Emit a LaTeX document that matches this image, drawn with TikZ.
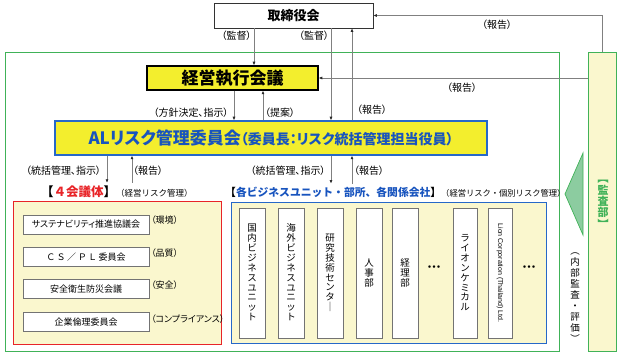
\documentclass[tikz,border=0pt]{standalone}
\usepackage{fontspec}
\setmainfont{Noto Sans CJK JP}[RawFeature=+palt]
\newfontfamily\jpfixed{Noto Sans CJK JP}
\newfontfamily\latfont{Liberation Sans}
\usetikzlibrary{arrows.meta,shadows}
\makeatletter
\newdimen\vstsp
\def\vst#1#2{\vbox{\vstsp=#1\relax\offinterlineskip\vst@#2\@nil}}
\def\vst@#1{\ifx#1\@nil\else\hbox to 1.1em{\hss\vrule height \vstsp depth 0.18em width 0pt #1\hss}\expandafter\vst@\fi}
\makeatother
\definecolor{kyellow}{RGB}{243,238,45}
\definecolor{pale}{RGB}{250,247,206}
\definecolor{kgreen}{RGB}{64,178,88}
\definecolor{kblue}{RGB}{38,104,200}
\definecolor{kbluet}{RGB}{24,84,190}
\definecolor{kred}{RGB}{232,36,40}
\definecolor{agray}{RGB}{128,128,128}
\definecolor{tri}{RGB}{140,204,160}
\tikzset{
  arr/.style={draw=agray, line width=0.6pt, -{Latex[length=3.5pt,width=3pt,color=black!85]}},
  lab/.style={font=\fontsize{10}{11}\selectfont, inner sep=0pt},
  wbox/.style={draw=black!55, fill=white, line width=0.6pt, inner sep=0pt,
    drop shadow={shadow xshift=0.8pt, shadow yshift=-0.8pt, fill=black!40, opacity=0.6}},
  hbox/.style={wbox, minimum width=126pt, minimum height=19pt, font=\fontsize{9}{10}\selectfont},
  vbox/.style={wbox, minimum width=26pt, minimum height=130pt},
  vtext/.style={inner sep=0pt, font=\jpfixed\fontsize{9.5}{10}\selectfont},
  side/.style={font=\fontsize{9}{10}\selectfont, inner sep=0pt, anchor=west},
}
\begin{document}
\begin{tikzpicture}[x=1pt,y=-1pt]
\useasboundingbox (0,0) rectangle (620,355);
% containers
\node[draw=kgreen, line width=0.7pt, minimum width=554pt, minimum height=299pt, inner sep=0pt] (outer) at (282,201.5) {};
\node[draw=kgreen, fill=pale, line width=0.7pt, minimum width=28pt, minimum height=299pt, inner sep=0pt] (aud) at (602,201.5) {};
\node[text=kgreen, inner sep=0pt, font=\jpfixed\fontsize{11}{12}\selectfont\bfseries] (audt) at (603,202) {\vst{0.8em}{︻監査部︼}};
% top boxes
\node[draw=black!80, fill=white, line width=0.7pt, minimum width=159pt, minimum height=25pt, inner sep=0pt,
  font=\fontsize{13}{14}\selectfont\bfseries] (tb) at (293.5,15.5) {取締役会};
\node[draw=black, fill=kyellow, line width=1.5pt, minimum width=171pt, minimum height=24pt, inner sep=0pt,
  drop shadow={shadow xshift=1pt, shadow yshift=-1pt, fill=black!50, opacity=0.6},
  font=\fontsize{17}{18}\selectfont\bfseries] (ke) at (232.5,78) {経営執行会議};
\node[draw=kblue, fill=kyellow, line width=1.5pt, minimum width=432pt, minimum height=34pt, inner sep=0pt,
  text=kbluet, font=\bfseries] (al) at (271,138)
  {{\fontsize{17}{18}\selectfont\bfseries ALリスク管理委員会}{\fontsize{14}{15}\selectfont\bfseries （委員長：リスク統括管理担当役員）}};
% lower containers
\node[draw=kred, fill=pale, line width=0.7pt, minimum width=208pt, minimum height=143pt, inner sep=0pt] (rb) at (117,272.5) {};
\node[draw=kblue, fill=pale, line width=0.7pt, minimum width=315pt, minimum height=141pt, inner sep=0pt] (bb) at (388.5,272.5) {};
% section labels
\node[inner sep=0pt, anchor=west] (g4) at (41,192)
  {{\jpfixed\fontsize{12.5}{13}\selectfont\bfseries 【{\color{kred}４会議体}】}{\jpfixed\fontsize{8.5}{10}\selectfont（経営リスク管理）}};
\node[inner sep=0pt, anchor=west] (bu) at (225,192)
  {{\jpfixed\fontsize{10.8}{12}\selectfont\bfseries 【{\color{kbluet}各ビジネスユニット・部所、各関係会社}】}{\jpfixed\fontsize{8.3}{10}\selectfont（経営リスク・個別リスク管理）}};
% left inner boxes
\node[hbox] (c1) at (86,224.5) {サステナビリティ推進協議会};
\node[hbox, font=\jpfixed\fontsize{9}{10}\selectfont] (c2) at (86,257) {Ｃ\,Ｓ\,／\,Ｐ\,Ｌ\,委員会};
\node[hbox] (c3) at (86,289) {安全衛生防災会議};
\node[hbox] (c4) at (86,322) {企業倫理委員会};
\node[side] at (151,220) {（環境）};
\node[side] at (151,253) {（品質）};
\node[side] at (151,285) {（安全）};
\node[side] at (151,319) {（コンプライアンス）};
% vertical boxes
\node[vbox] (v1) at (252,273) {};
\node[vbox] (v2) at (291,273) {};
\node[vbox] (v3) at (330,273) {};
\node[vbox] (v4) at (369,273) {};
\node[vbox] (v5) at (405,273) {};
\node[vbox, minimum width=24pt] (v6) at (465,273) {};
\node[vbox, minimum width=24pt] (v7) at (500,273) {};
\node[vtext] at (v1) {\vst{0.86em}{国内ビジネスユニット}};
\node[vtext] at (v2) {\vst{0.86em}{海外ビジネスユニット}};
\node[vtext] at (v3) {\vst{0.86em}{研究技術センタ｜}};
\node[vtext] at (v4) {\vst{0.86em}{人事部}};
\node[vtext] at (v5) {\vst{0.86em}{経理部}};
\node[vtext] at (v6) {\vst{0.86em}{ライオンケミカル}};
\node[rotate=-90, inner sep=0pt, font=\latfont\fontsize{7}{8}\selectfont] at (v7) {Lion Corporation (Thailand) Ltd.};
\node[inner sep=0pt, font=\fontsize{9}{10}\selectfont\bfseries] (d1) at (434,268) {・・・};
\node[inner sep=0pt, font=\fontsize{9}{10}\selectfont\bfseries] (d2) at (529,268) {・・・};
% audit arrow triangle and text
\draw[kgreen, fill=tri, line width=0.7pt] (565,194) -- (583,153) -- (583,235) -- cycle;
\node[inner sep=0pt, font=\jpfixed\fontsize{9.5}{10}\selectfont] (ia) at (575,295) {\vst{0.98em}{︵内部監査・評価︶}};
% connectors
\draw[arr] (tb.south -| 254,0) -- (ke.north -| 254,0);
\draw[arr] (tb.south -| 331,0) -- (al.north -| 331,0);
\draw[arr] (al.north -| 352,0) -- (tb.south -| 352,0);
\draw[arr] (aud.north) |- (tb.east);
\draw[arr] (aud.west |- ke.east) -- (ke.east);
\draw[arr] (ke.south -| 234,0) -- (al.north -| 234,0);
\draw[arr] (al.north -| 263,0) -- (ke.south -| 263,0);
\draw[arr, shorten >=3pt] (al.south -| 107,0) -- (g4.north -| 107,0);
\draw[arr, shorten <=3pt] (g4.north -| 132,0) -- (al.south -| 132,0);
\draw[arr, shorten >=3pt] (al.south -| 331,0) -- (bu.north -| 331,0);
\draw[arr, shorten <=3pt] (bu.north -| 352,0) -- (al.south -| 352,0);
% connector labels
\node[lab] at (236.5,36) {（監督）};
\node[lab] at (314,36) {（監督）};
\node[lab] at (497,25) {（報告）};
\node[lab] at (462,88) {（報告）};
\node[lab] at (372,110) {（報告）};
\node[lab] at (191,113) {（方針決定、指示）};
\node[lab] at (280,113) {（提案）};
\node[lab] at (63.5,171) {（統括管理、指示）};
\node[lab] at (148,171) {（報告）};
\node[lab] at (288,171) {（統括管理、指示）};
\node[lab] at (369,171) {（報告）};
\end{tikzpicture}
\end{document}
